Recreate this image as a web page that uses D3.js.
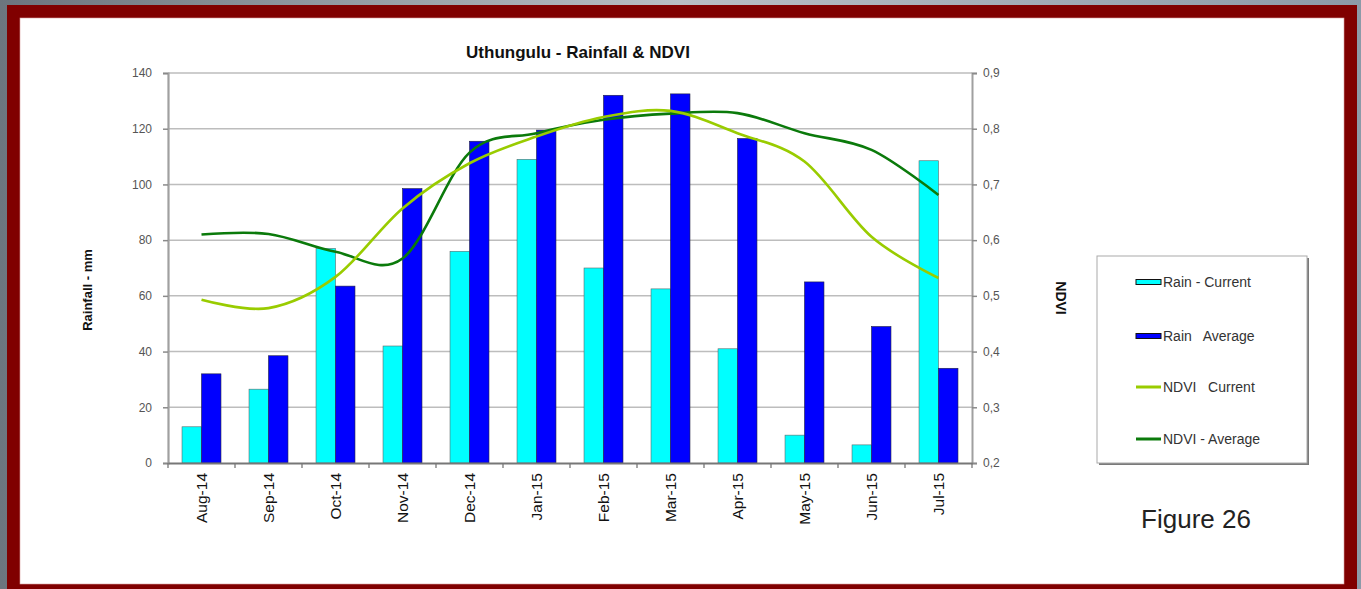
<!DOCTYPE html>
<html>
<head>
<meta charset="utf-8">
<script src="https://cdn.jsdelivr.net/npm/d3@7"></script>
<style>
  html, body { margin: 0; padding: 0; background: #8a939b; overflow: hidden; }
  svg { display: block; font-family: "Liberation Sans", Arial, sans-serif; }
</style>
</head>
<body>
<svg id="chart" width="1361" height="589"></svg>
<script>
// ---- data ----
const months = ["Aug-14","Sep-14","Oct-14","Nov-14","Dec-14","Jan-15","Feb-15","Mar-15","Apr-15","May-15","Jun-15","Jul-15"];
const rainCurrent = [13, 26.5, 77, 42, 76, 109, 70, 62.5, 41, 10, 6.5, 108.5];
const rainAverage = [32, 38.5, 63.5, 98.5, 115.5, 119.5, 132, 132.5, 116.5, 65, 49, 34];
const ndviCurrent = [0.493, 0.478, 0.534, 0.657, 0.738, 0.786, 0.821, 0.832, 0.792, 0.741, 0.606, 0.532];
const ndviAverage = [0.61, 0.611, 0.579, 0.567, 0.757, 0.792, 0.816, 0.827, 0.828, 0.792, 0.762, 0.681];
const rainTicks = [0, 20, 40, 60, 80, 100, 120, 140];
const ndviTicks = [0.2, 0.3, 0.4, 0.5, 0.6, 0.7, 0.8, 0.9];
const legendLabels = ["Rain - Current", "Rain   Average", "NDVI   Current", "NDVI - Average"];
const title = "Uthungulu - Rainfall & NDVI";

// ---- layout ----
const svg = d3.select("#chart");
const L = 168, R = 972, T = 73, B = 463;

// background: photo strip, red frame, white card
const bg = svg.append("defs").append("linearGradient").attr("id", "bgGrad").attr("x1", 0).attr("x2", 1).attr("y1", 0).attr("y2", 0);
bg.append("stop").attr("offset", "0").attr("stop-color", "#6c757e");
bg.append("stop").attr("offset", "0.5").attr("stop-color", "#b9bfc5");
bg.append("stop").attr("offset", "1").attr("stop-color", "#8c9aa8");
svg.append("rect").attr("x", 0).attr("y", 0).attr("width", 1361).attr("height", 589).attr("fill", "url(#bgGrad)");
svg.append("rect").attr("x", 7).attr("y", 5).attr("width", 1350).attr("height", 590).attr("fill", "#800000");
svg.append("rect").attr("x", 20).attr("y", 18).attr("width", 1324).attr("height", 566).attr("fill", "#ffffff")
  .attr("stroke", "#d9a0a0").attr("stroke-width", 0.6);

// ---- scales ----
const x = d3.scaleBand().domain(months).range([L, R]).paddingInner(0).paddingOuter(0);
const xs = d3.scaleBand().domain(["cur", "avg"]).range([0, x.bandwidth()]).paddingInner(0).paddingOuter(0.72);
const yL = d3.scaleLinear().domain([0, 140]).range([B, T]);
const yR = d3.scaleLinear().domain([0.2, 0.9]).range([B, T]);

// gridlines
svg.append("g").selectAll("line").data(rainTicks.filter(d => d > 0)).join("line")
  .attr("x1", L).attr("x2", R).attr("y1", d => yL(d)).attr("y2", d => yL(d))
  .attr("stroke", "#bdbdbd").attr("stroke-width", 1.5);

// left axis
const axL = svg.append("g").attr("transform", `translate(${L},0)`)
  .call(d3.axisLeft(yL).tickValues(rainTicks).tickSize(5).tickPadding(11).tickFormat(d3.format("d")));
axL.select(".domain").attr("stroke", "#a0a0a0").attr("stroke-width", 2.2);
axL.selectAll(".tick line").attr("stroke", "#8a8a8a").attr("stroke-width", 1.5);
axL.selectAll(".tick text").attr("fill", "#555").attr("font-size", 12).attr("font-family", "Liberation Sans, Arial, sans-serif");

// right axis
const axR = svg.append("g").attr("transform", `translate(${R},0)`)
  .call(d3.axisRight(yR).tickValues(ndviTicks).tickSize(5).tickPadding(6).tickFormat(d => d3.format(".1f")(d).replace(".", ",")));
axR.select(".domain").attr("stroke", "#a0a0a0").attr("stroke-width", 2);
axR.selectAll(".tick line").attr("stroke", "#8a8a8a").attr("stroke-width", 1.5);
axR.selectAll(".tick text").attr("fill", "#555").attr("font-size", 12).attr("font-family", "Liberation Sans, Arial, sans-serif");

// bars
const bars = svg.append("g");
bars.selectAll("rect.cur").data(months).join("rect").attr("class", "cur")
  .attr("x", (m) => x(m) + xs("cur")).attr("width", xs.bandwidth())
  .attr("y", (m, i) => yL(rainCurrent[i])).attr("height", (m, i) => B - yL(rainCurrent[i]))
  .attr("fill", "#00ffff").attr("stroke", "#5a6a6a").attr("stroke-width", 0.6);
bars.selectAll("rect.avg").data(months).join("rect").attr("class", "avg")
  .attr("x", (m) => x(m) + xs("avg")).attr("width", xs.bandwidth())
  .attr("y", (m, i) => yL(rainAverage[i])).attr("height", (m, i) => B - yL(rainAverage[i]))
  .attr("fill", "#0000ff").attr("stroke", "#202040").attr("stroke-width", 0.6);

// x axis
const axB = svg.append("g").attr("transform", `translate(0,${B})`)
  .call(d3.axisBottom(x).tickSize(0).tickPadding(10));
axB.select(".domain").attr("stroke", "#777").attr("stroke-width", 2);
axB.selectAll(".tick text")
  .attr("font-size", 15.5).attr("fill", "#111").attr("font-family", "Liberation Sans, Arial, sans-serif")
  .attr("text-anchor", "end").attr("transform", "rotate(-90)")
  .attr("x", -10).attr("y", 0).attr("dy", "0.36em");
// boundary tick marks
const bounds = months.map(m => x(m)).concat([x(months[months.length - 1]) + x.step()]);
svg.append("g").selectAll("line").data(bounds).join("line")
  .attr("x1", d => d).attr("x2", d => d).attr("y1", B).attr("y2", B + 5)
  .attr("stroke", "#777").attr("stroke-width", 1.3);

// NDVI lines
const cx = m => x(m) + x.bandwidth() / 2;
const lineGen = vals => d3.line().curve(d3.curveCardinal.tension(0))
  .x((m) => cx(m)).y((m, i) => yR(vals[i]))(months);
svg.append("path").attr("d", lineGen(ndviAverage)).attr("fill", "none")
  .attr("stroke", "#0b7a0b").attr("stroke-width", 2.6);
svg.append("path").attr("d", lineGen(ndviCurrent)).attr("fill", "none")
  .attr("stroke", "#99cc00").attr("stroke-width", 2.6);

// titles
svg.append("text").attr("x", 578).attr("y", 58).attr("text-anchor", "middle")
  .attr("font-size", 17).attr("font-weight", "bold").attr("fill", "#111").text(title);
svg.append("text").attr("transform", "translate(92,290) rotate(-90)").attr("text-anchor", "middle")
  .attr("font-size", 13).attr("font-weight", "bold").attr("fill", "#111").text("Rainfall - mm");
svg.append("text").attr("transform", "translate(1056,298) rotate(90)").attr("text-anchor", "middle")
  .attr("font-size", 14).attr("font-weight", "bold").attr("fill", "#111").text("NDVI");

// legend
const lg = svg.append("g");
lg.append("rect").attr("x", 1099).attr("y", 258).attr("width", 210).attr("height", 207).attr("fill", "#7a7a7a");
lg.append("rect").attr("x", 1097).attr("y", 256).attr("width", 210).attr("height", 207)
  .attr("fill", "#fff").attr("stroke", "#aaa").attr("stroke-width", 1);
const legendY = [282, 336, 387, 439];
const legendKinds = [
  {type: "rect", fill: "#00ffff"},
  {type: "rect", fill: "#0000ff"},
  {type: "line", stroke: "#99cc00"},
  {type: "line", stroke: "#0b7a0b"}
];
legendKinds.forEach((k, i) => {
  const yy = legendY[i];
  if (k.type === "rect") {
    lg.append("rect").attr("x", 1136).attr("y", yy - 2.5).attr("width", 25).attr("height", 5)
      .attr("fill", k.fill).attr("stroke", "#111").attr("stroke-width", 1);
  } else {
    lg.append("line").attr("x1", 1136).attr("x2", 1161).attr("y1", yy).attr("y2", yy)
      .attr("stroke", k.stroke).attr("stroke-width", 3);
  }
  lg.append("text").attr("x", 1163).attr("y", yy).attr("dy", "0.35em")
    .attr("font-size", 14).attr("fill", "#333").style("white-space", "pre").text(legendLabels[i]);
});

// figure caption
svg.append("text").attr("x", 1196).attr("y", 528).attr("text-anchor", "middle")
  .attr("font-size", 26).attr("fill", "#222").text("Figure 26");
</script>
</body>
</html>
